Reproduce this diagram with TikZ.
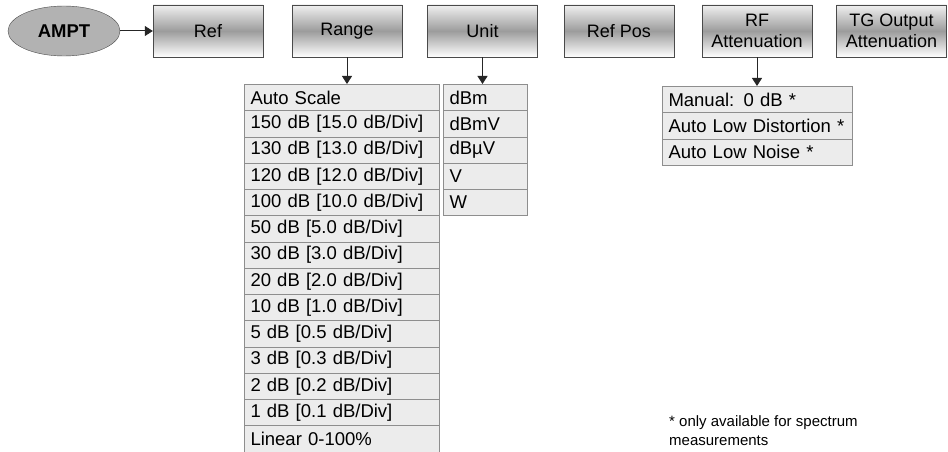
\documentclass[tikz,border=0pt]{standalone}
\usepackage{fontspec}
\setmainfont{Liberation Sans}
\usetikzlibrary{arrows.meta,shapes.geometric}
\definecolor{cellfill}{HTML}{ECECEC}
\definecolor{celldraw}{HTML}{8E8E8E}
\definecolor{boxdraw}{HTML}{4A4A4A}
\definecolor{boxmid}{HTML}{9C9C9C}
\definecolor{amptfill}{HTML}{B2B2B2}

\begin{document}
\begin{tikzpicture}[x=1pt, y=-1pt,
  hardkey/.style={draw=boxdraw, ellipse, fill=amptfill, minimum width=112pt, minimum height=50pt, inner sep=1pt, font=\fontsize{18.5}{21}\selectfont\bfseries},
  menubox/.style={draw=boxdraw, top color=gray!12, bottom color=white, middle color=boxmid, align=center, minimum width=110pt, minimum height=52pt, inner sep=1pt, font=\fontsize{18}{21.5}\selectfont},
  cell/.style={draw=celldraw, line width=1pt, fill=cellfill, anchor=north west, align=left, minimum height=26.25pt, inner xsep=6pt, inner ysep=1pt, font=\fontsize{18.5}{21}\selectfont},
  rangecell/.style={cell, text width=183pt},
  unitcell/.style={cell, text width=72pt},
  attcell/.style={cell, text width=178pt},
  note/.style={anchor=base west, align=left, inner sep=0pt, font=\fontsize{15}{19}\selectfont},
  arr/.style={-{Triangle[length=8pt, width=10pt]}, line width=1pt, draw=black!85}
]
\useasboundingbox (0,0) rectangle (948,452);
% softkey row
\node[hardkey] (ampt) at (64,31) {AMPT};
\node[menubox] (ref) at (208,31) {Ref};
\node[menubox] (range) at (347,31) {Range};
\node[menubox] (unit) at (482.5,31) {Unit};
\node[menubox] (refpos) at (619,31) {Ref Pos};
\node[menubox] (rfatt) at (757,31) {RF\\Attenuation};
\node[menubox] (tgatt) at (891.5,31) {TG Output\\Attenuation};
% range list
\node[rangecell] (autoscale) at (244,84) {Auto Scale};
\node[rangecell] (r150) at (244,110.25) {150 dB [15.0 dB/Div]};
\node[rangecell] (r130) at (244,136.5) {130 dB [13.0 dB/Div]};
\node[rangecell] (r120) at (244,162.75) {120 dB [12.0 dB/Div]};
\node[rangecell] (r100) at (244,189) {100 dB [10.0 dB/Div]};
\node[rangecell] (r50) at (244,215.25) {50 dB [5.0 dB/Div]};
\node[rangecell] (r30) at (244,241.5) {30 dB [3.0 dB/Div]};
\node[rangecell] (r20) at (244,267.75) {20 dB [2.0 dB/Div]};
\node[rangecell] (r10) at (244,294) {10 dB [1.0 dB/Div]};
\node[rangecell] (r5) at (244,320.25) {5 dB [0.5 dB/Div]};
\node[rangecell] (r3) at (244,346.5) {3 dB [0.3 dB/Div]};
\node[rangecell] (r2) at (244,372.75) {2 dB [0.2 dB/Div]};
\node[rangecell] (r1) at (244,399) {1 dB [0.1 dB/Div]};
\node[rangecell] (linear) at (244,425.25) {Linear 0-100\%};
% unit list
\node[unitcell] (dbm) at (443,84) {dBm};
\node[unitcell] (dbmv) at (443,110.25) {dBmV};
\node[unitcell] (dbuv) at (443,136.5) {dBµV};
\node[unitcell] (volt) at (443,162.75) {V};
\node[unitcell] (watt) at (443,189) {W};
% attenuation list
\node[attcell] (manual) at (662,86) {Manual: 0 dB *};
\node[attcell] (lowdist) at (662,112.25) {Auto Low Distortion *};
\node[attcell] (lownoise) at (662,138.5) {Auto Low Noise *};
\node[note] (footnote) at (669,445) {* only available for spectrum\\measurements};
\draw[arr] (ampt) -- (ref);
\draw[arr] (range.south) -- (range.south |- autoscale.north);
\draw[arr] (unit.south) -- (unit.south |- dbm.north);
\draw[arr] (rfatt.south) -- (rfatt.south |- manual.north);
\end{tikzpicture}
\end{document}
